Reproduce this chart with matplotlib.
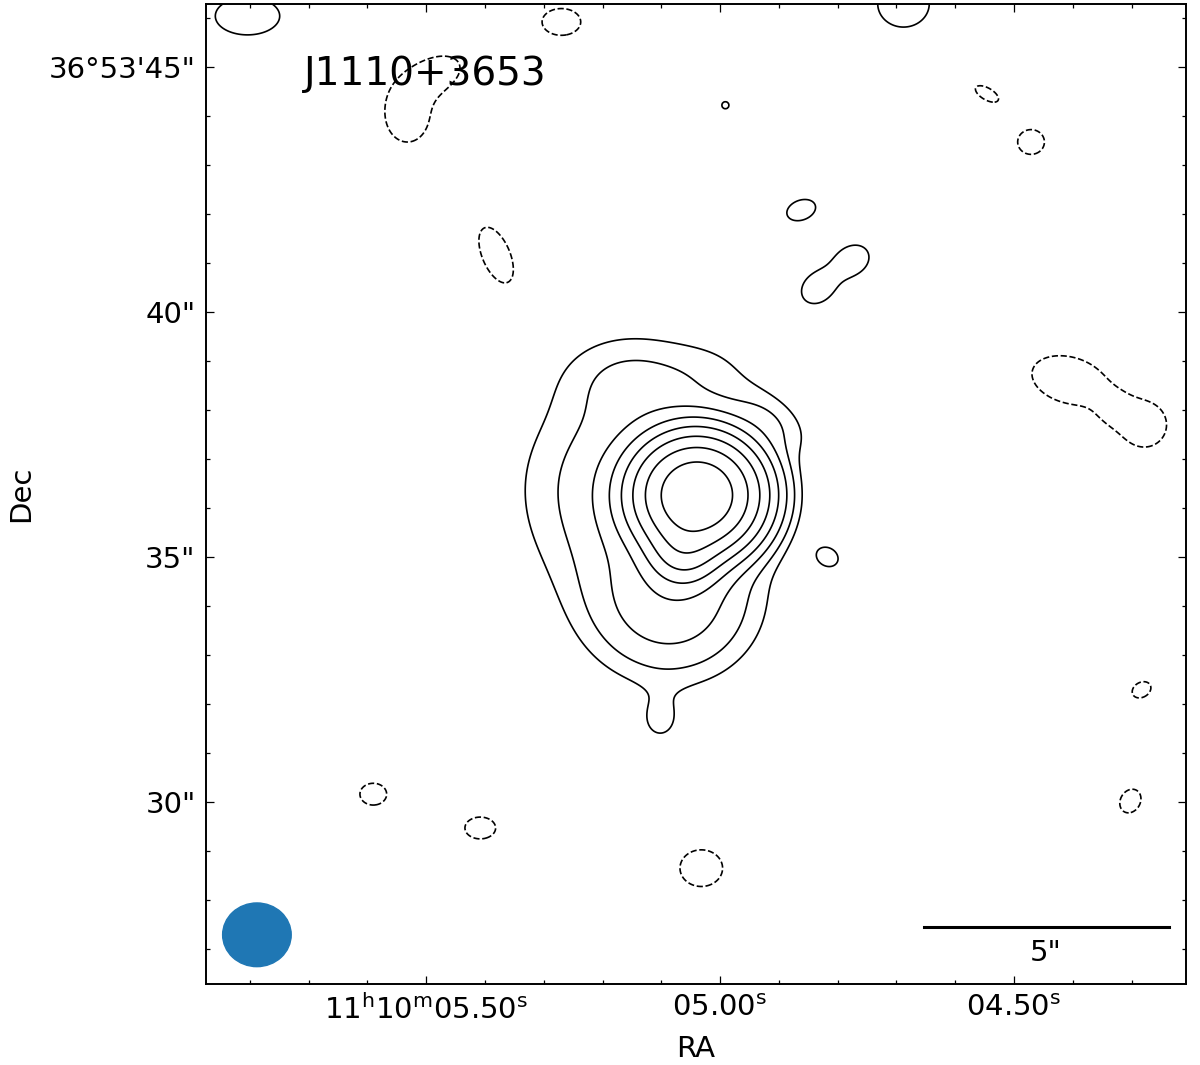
import numpy as np
import matplotlib
matplotlib.use("Agg")
import matplotlib.pyplot as plt
from matplotlib.patches import Ellipse

# field is at 11h10m.. , +36d53'..
DEC0 = 36.896
ASEC_PER_S = 15 * np.cos(np.radians(DEC0))

# gaussian components of the map: RA seconds, Dec arcsec, peak (in rms units),
# sigma along x / y in arcsec, rotation in degrees (counter-clockwise on the image)
# first 8 = the source (core + diffuse parts), rest = noise blobs
comp_ra = [5.039, 5.063, 5.085, 5.137, 5.154, 5.017, 4.915, 5.102,
           5.804, 4.688, 4.991, 4.862, 4.834, 4.775, 4.817,
           5.532, 5.486, 5.270, 5.381, 4.546, 4.471, 4.406, 4.278, 4.331,
           4.283, 4.302, 5.590, 5.408, 5.032]
comp_dec = [36.265, 35.122, 34.061, 36.367, 38.653, 38.776, 37.796, 31.633,
            46.04, 46.29, 44.22, 42.08, 40.49, 41.06, 35.00,
            44.02, 44.837, 45.92, 41.16, 44.45, 43.47, 38.61, 37.694, 38.0,
            32.29, 30.02, 30.16, 29.47, 28.65]
comp_peak = [730, 90, 17, 12, 4.6, 2.0, 4.5, 3.2,
             5, 5, 3.05, 5, 5, 5, 5,
             -5.5, -5.5, -5, -5, -5, -5, -6, -6, -3,
             -5, -5, -5, -5, -5]
comp_sx = [0.63, 0.40, 1.00, 1.40, 0.90, 0.70, 0.60, 0.38,
           0.65, 0.52, 0.40, 0.30, 0.35, 0.35, 0.21,
           0.40, 0.50, 0.39, 0.60, 0.26, 0.27, 0.66, 0.38, 0.30,
           0.20, 0.25, 0.27, 0.31, 0.43]
comp_sy = [0.585, 0.40, 0.90, 1.40, 0.60, 0.50, 0.35, 0.42,
           0.38, 0.47, 0.40, 0.20, 0.28, 0.28, 0.17,
           0.50, 0.30, 0.27, 0.28, 0.12, 0.25, 0.40, 0.38, 0.30,
           0.15, 0.20, 0.22, 0.22, 0.37]
comp_pa = [0, 0, 0, 0, 0, 0, -35, 0,
           0, 0, 0, 20, 40, 30, -30,
           0, 25, 0, -67, -30, 0, -15, 0, 0,
           30, 60, 0, 0, 0]

levels = [-3, 3, 6, 12, 24, 48, 96, 192, 384]

# restoring beam (arcsec) and scale bar
beam_ra, beam_dec = 5.788, 27.29
beam_w, beam_h = 1.40, 1.30
bar_len = 5.0
bar_ra_right, bar_dec = 4.237, 27.45

ra_center = 5.041
ra_half = 10.0 / ASEC_PER_S
dec_lo, dec_hi = 26.286, 46.286

ra = np.linspace(ra_center - ra_half, ra_center + ra_half, 800)
dec = np.linspace(dec_lo, dec_hi, 800)
RA, DEC = np.meshgrid(ra, dec)
X = (5.0 - RA) * ASEC_PER_S
Y = DEC

img = np.zeros_like(X)
for r0, d0, a, sx, sy, pa in zip(comp_ra, comp_dec, comp_peak, comp_sx, comp_sy, comp_pa):
    dx = X - (5.0 - r0) * ASEC_PER_S
    dy = Y - d0
    t = np.radians(pa)
    u = dx * np.cos(t) + dy * np.sin(t)
    v = -dx * np.sin(t) + dy * np.cos(t)
    img += a * np.exp(-(u**2 / (2 * sx**2) + v**2 / (2 * sy**2)))

fig = plt.figure(figsize=(12, 10.65), dpi=100)
ax = fig.add_axes([206 / 1200, 81 / 1065, 980 / 1200, 980 / 1065])

ax.contour(RA, DEC, img, levels=levels, colors="k", linewidths=1.2,
           negative_linestyles="dashed")

ax.add_patch(Ellipse((beam_ra, beam_dec), beam_w / ASEC_PER_S, beam_h,
                     color="#1f77b4", zorder=3))

bar_ra_left = bar_ra_right + bar_len / ASEC_PER_S
ax.plot([bar_ra_left, bar_ra_right], [bar_dec, bar_dec], color="k", lw=2.2)
ax.text((bar_ra_left + bar_ra_right) / 2, bar_dec - 0.25, '5"',
        ha="center", va="top", fontsize=21)

ax.text(0.1, 0.948, "J1110+3653", transform=ax.transAxes,
        fontsize=28, ha="left", va="top")

ax.set_xlim(ra_center + ra_half, ra_center - ra_half)
ax.set_ylim(dec_lo, dec_hi)

ax.set_xticks([5.5, 5.0, 4.5])
ax.set_xticklabels([r"11$^{\mathrm{h}}$10$^{\mathrm{m}}$05.50$^{\mathrm{s}}$",
                    r"05.00$^{\mathrm{s}}$", r"04.50$^{\mathrm{s}}$"])
ax.set_xticks(np.arange(4.3, 5.85, 0.1), minor=True)
ax.set_yticks([30, 35, 40, 45])
ax.set_yticklabels(['30"', '35"', '40"', '36°53\'45"'])
ax.set_yticks(np.arange(27, 46.1, 1.0), minor=True)

ax.tick_params(which="both", direction="in", top=True, right=True, width=0.9)
ax.tick_params(which="major", length=5.5, labelsize=21, pad=7.5)
ax.tick_params(which="minor", length=3)
for s in ax.spines.values():
    s.set_linewidth(1.4)

ax.set_xlabel("RA", fontsize=21, labelpad=7)
ax.set_ylabel("Dec", fontsize=21, labelpad=10)

fig.savefig("out.png", dpi=100)
